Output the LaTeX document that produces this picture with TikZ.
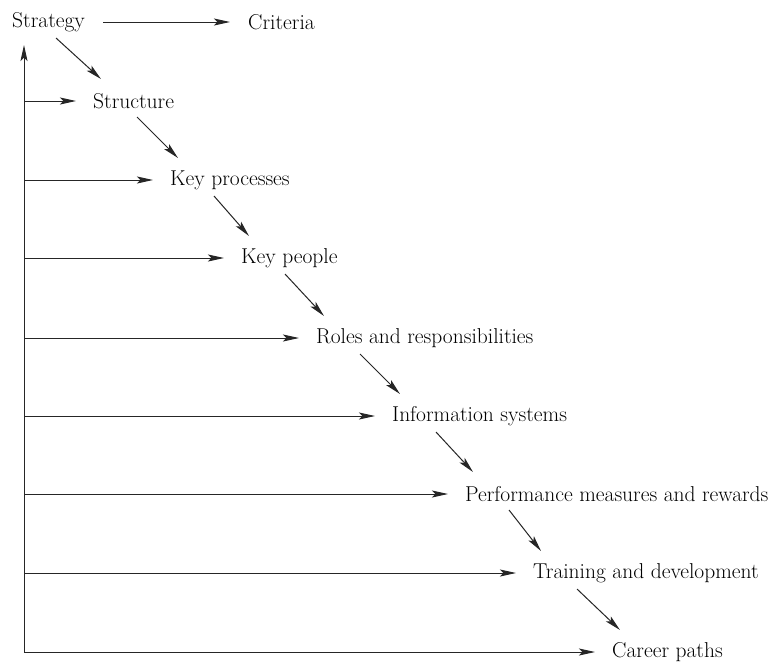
\documentclass[tikz,border=0pt]{standalone}
\usetikzlibrary{arrows.meta,calc}

\tikzset{
  label/.style={anchor=west, inner sep=0pt, font=\fontsize{21.5}{25}\selectfont},
  arr/.style={draw=black!85, line width=1pt,
    -{Stealth[length=16pt,width=7pt,inset=3.5pt]}},
  feed/.style={arr, shorten >=17pt},
  diag/.style={arr}
}

\begin{document}
\begin{tikzpicture}[x=1pt,y=-1pt]
  \useasboundingbox[fill=white] (0,0) rectangle (774,665);

  % labels, one step per row
  \node[label] (strategy)  at (12,22)  {Strategy};
  \node[label] (criteria)  at (248,22) {Criteria};
  \node[label] (structure) at (93,101) {Structure};
  \node[label] (keyproc)   at (170,180) {Key processes};
  \node[label] (keypeople) at (241,258) {Key people};
  \node[label] (roles)     at (316,338) {Roles and responsibilities};
  \node[label] (infosys)   at (392,416) {Information systems};
  \node[label] (perf)      at (465,494) {Performance measures and rewards};
  \node[label] (training)  at (533,573) {Training and development};
  \node[label] (career)    at (612,652) {Career paths};

  % spine on the left
  \coordinate (corner) at (24,652);
  \coordinate (top) at (24,45);
  \draw[arr] (corner) -- (top);

  % strategy to criteria
  \draw[arr, shorten <=18pt, shorten >=18pt] (strategy.east) -- (criteria.west);

  % feeds from the spine
  \foreach \n in {structure,keyproc,keypeople,roles,infosys,perf,training,career}
    \draw[feed] (corner |- \n.west) -- (\n.west);

  % cascade of diagonal steps
  \foreach \a/\b in {strategy/structure,structure/keyproc,keyproc/keypeople,
                     keypeople/roles,roles/infosys,infosys/perf,perf/training,
                     training/career}
    \draw[diag] ([xshift=44pt,yshift=-16pt]\a.west) -- ([xshift=8pt,yshift=22pt]\b.west);
\end{tikzpicture}
\end{document}
